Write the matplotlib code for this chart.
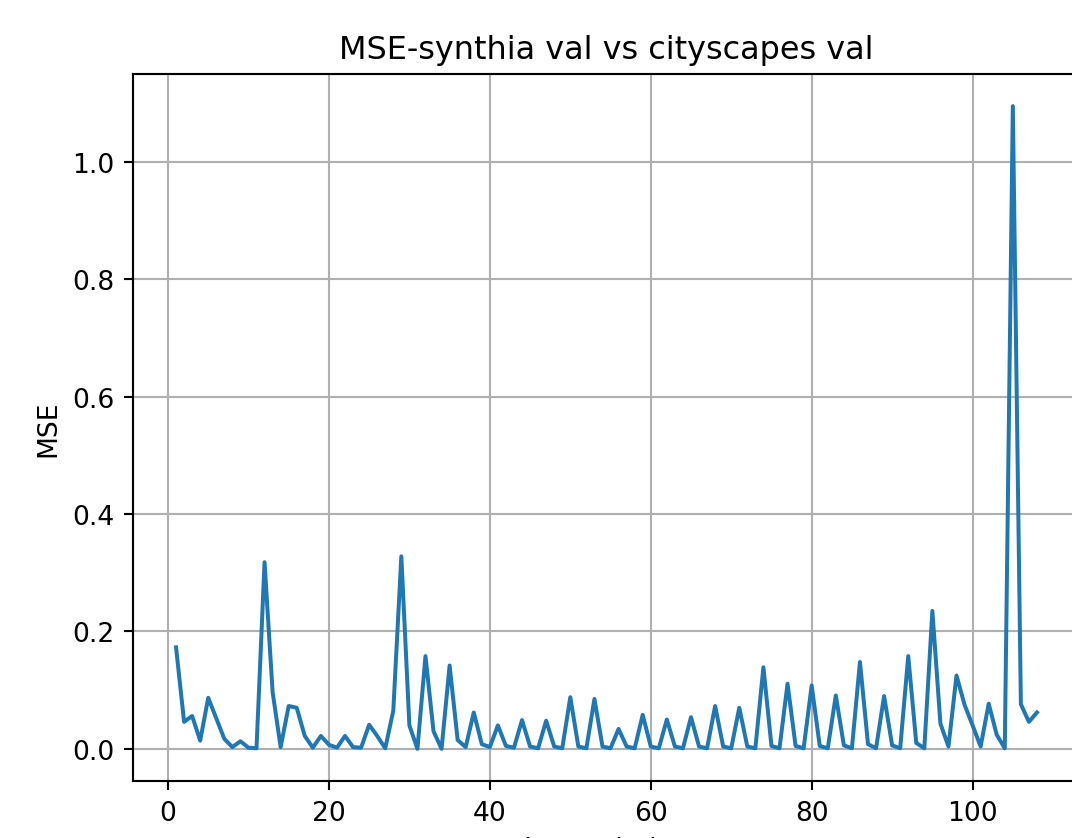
import numpy as np
import matplotlib
matplotlib.use("Agg")
import matplotlib.pyplot as plt

# MSE per index
idx = np.arange(1, 109)
mse = [0.173, 0.046, 0.056, 0.014, 0.087, 0.052, 0.017, 0.003, 0.013, 0.002,
       0.001, 0.318, 0.097, 0.003, 0.073, 0.070, 0.022, 0.002, 0.022, 0.007,
       0.002, 0.022, 0.003, 0.002, 0.041, 0.022, 0.001, 0.065, 0.328, 0.040,
       0.000, 0.158, 0.030, 0.000, 0.142, 0.015, 0.003, 0.062, 0.008, 0.003,
       0.040, 0.005, 0.002, 0.049, 0.004, 0.001, 0.048, 0.004, 0.001, 0.088,
       0.004, 0.001, 0.085, 0.004, 0.001, 0.034, 0.004, 0.001, 0.058, 0.004,
       0.001, 0.050, 0.004, 0.001, 0.054, 0.004, 0.001, 0.073, 0.004, 0.001,
       0.070, 0.004, 0.001, 0.139, 0.005, 0.001, 0.111, 0.005, 0.001, 0.108,
       0.005, 0.001, 0.091, 0.006, 0.001, 0.148, 0.008, 0.001, 0.090, 0.006,
       0.001, 0.158, 0.010, 0.001, 0.235, 0.043, 0.004, 0.125, 0.075, 0.040,
       0.004, 0.077, 0.024, 0.001, 1.095, 0.076, 0.046, 0.062]

dpi = 191
fig = plt.figure(figsize=(1072 / dpi, 839 / dpi), dpi=dpi)
# the reference is a crop of a larger figure: the axes run past the right edge
ax = fig.add_axes([133 / 1072, 57 / 839, 955 / 1072, 707 / 839])
ax.plot(idx, mse)
ax.set_xlim(-4.35, -4.35 + 955 / 8.046)
ax.set_title("MSE-synthia val vs cityscapes val", x=473 / 955)
ax.set_ylabel("MSE")
ax.set_xlabel("Image index", x=473 / 955)
ax.grid(True)

fig.savefig("out.png", dpi=dpi)
